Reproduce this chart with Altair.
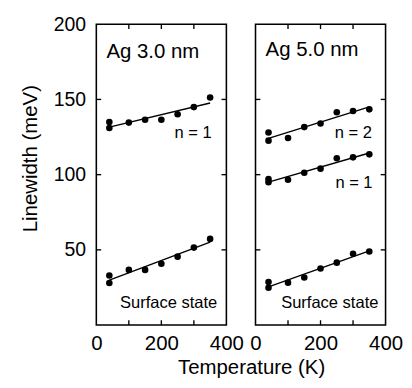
import altair as alt
import pandas as pd

FONT = "Liberation Sans"

# Temperatures (K)
temps = [40, 40, 100, 150, 200, 250, 300, 350]

# Ag 3.0 nm
ag3_n1 = [135.0, 131.0, 134.6, 136.5, 136.5, 140.2, 144.9, 151.3]
ag3_ss = [33.0, 28.0, 36.7, 36.7, 40.8, 45.5, 51.5, 57.3]

# Ag 5.0 nm
ag5_n2 = [128.0, 122.6, 124.4, 131.6, 134.0, 141.5, 142.3, 143.4]
ag5_n1 = [97.0, 94.9, 96.6, 101.3, 104.0, 110.9, 111.5, 113.5]
ag5_ss = [28.6, 24.8, 28.2, 31.6, 37.6, 41.5, 47.4, 48.9]

# Annotation texts and anchors (data coordinates)
ag3_label_text = ["n = 1", "Surface state"]
ag3_label_T = [355, 372]
ag3_label_W = [127.5, 14.5]
ag3_title = ("Ag 3.0 nm", 31, 181.5)

ag5_label_text = ["n = 2", "n = 1", "Surface state"]
ag5_label_T = [358, 360, 378]
ag5_label_W = [127.5, 94.5, 14.5]
ag5_title = ("Ag 5.0 nm", 31, 182.5)

# Inner tick positions
x_ticks = [100, 200, 300]
y_ticks = [50, 100, 150]

W_PX, H_PX = 134, 310
TICK = 5


def series_df(pairs):
    rows = []
    for name, vals in pairs:
        for t, v in zip(temps, vals):
            rows.append({"series": name, "T": t, "W": v})
    return pd.DataFrame(rows)


def panel(pairs, lab_text, lab_T, lab_W, title, left):
    df = series_df(pairs)
    xscale = alt.Scale(domain=[0, 400], nice=False, zero=False)
    yscale = alt.Scale(domain=[0, 200], nice=False, zero=False)
    if left:
        xaxis = alt.Axis(values=[0, 200, 400], ticks=False, domain=False, grid=False,
                         labelFlush=False,
                         labelFontSize=21, labelPadding=8, labelColor="black",
                         title="Temperature (K)", titleFontSize=21, titleFontWeight="normal",
                         titleColor="black", titleX=159.5, titleY=44,
                         titleAlign="center", titleBaseline="middle")
        yaxis = alt.Axis(values=[50, 100, 150, 200], ticks=False, domain=False, grid=False,
                         labelFlush=False,
                         labelFontSize=20, labelPadding=11, labelColor="black",
                         title="Linewidth (meV)", titleFontSize=21, titleFontWeight="normal",
                         titleColor="black", titleX=-68, titleY=138,
                         titleAlign="center", titleBaseline="middle")
    else:
        xaxis = alt.Axis(values=[0, 200, 400], ticks=False, domain=False, grid=False,
                         labelFlush=False,
                         labelFontSize=21, labelPadding=8, labelColor="black", title=None)
        yaxis = None

    X = alt.X("T:Q", scale=xscale, axis=xaxis)
    Y = alt.Y("W:Q", scale=yscale, axis=yaxis)

    pts = alt.Chart(df).mark_circle(size=46, color="black", opacity=1).encode(x=X, y=Y)
    fit = (alt.Chart(df)
           .transform_regression("T", "W", groupby=["series"])
           .mark_line(color="black", strokeWidth=1.4)
           .encode(x=X, y=Y, detail="series:N"))

    ldf = pd.DataFrame({"txt": lab_text, "T": lab_T, "W": lab_W})
    labels = alt.Chart(ldf).mark_text(align="right", baseline="middle", fontSize=17,
                                      font=FONT, color="black").encode(x=X, y=Y, text="txt:N")
    tdf = pd.DataFrame({"txt": [title[0]], "T": [title[1]], "W": [title[2]]})
    ttl = alt.Chart(tdf).mark_text(align="left", baseline="middle", fontSize=21,
                                   font=FONT, color="black").encode(x=X, y=Y, text="txt:N")

    ydf = pd.DataFrame({"W": y_ticks})
    xdf = pd.DataFrame({"T": x_ticks})
    tl = alt.Chart(ydf).mark_rule(color="black", strokeWidth=1.4).encode(
        y=Y, x=alt.value(0), x2=alt.value(TICK))
    tr = alt.Chart(ydf).mark_rule(color="black", strokeWidth=1.4).encode(
        y=Y, x=alt.value(W_PX - TICK), x2=alt.value(W_PX))
    tt = alt.Chart(xdf).mark_rule(color="black", strokeWidth=1.4).encode(
        x=X, y=alt.value(0), y2=alt.value(TICK))
    tb = alt.Chart(xdf).mark_rule(color="black", strokeWidth=1.4).encode(
        x=X, y=alt.value(H_PX - TICK), y2=alt.value(H_PX))

    return alt.layer(fit, pts, labels, ttl, tl, tr, tt, tb).properties(width=W_PX, height=H_PX)


left = panel([("n1", ag3_n1), ("ss", ag3_ss)], ag3_label_text, ag3_label_T, ag3_label_W,
             ag3_title, True)
right = panel([("n2", ag5_n2), ("n1", ag5_n1), ("ss", ag5_ss)], ag5_label_text,
              ag5_label_T, ag5_label_W, ag5_title, False)

chart = (alt.hconcat(left, right, spacing=30, bounds="flush")
         .properties(padding={"left": 11, "top": 0, "right": 0, "bottom": 0},
                     background="white")
         .configure_view(stroke="black", strokeWidth=1.6)
         .configure_axis(labelFont=FONT, titleFont=FONT)
         .configure_text(font=FONT))

chart.save("out.html", embed_options={"renderer": "svg", "actions": False})
